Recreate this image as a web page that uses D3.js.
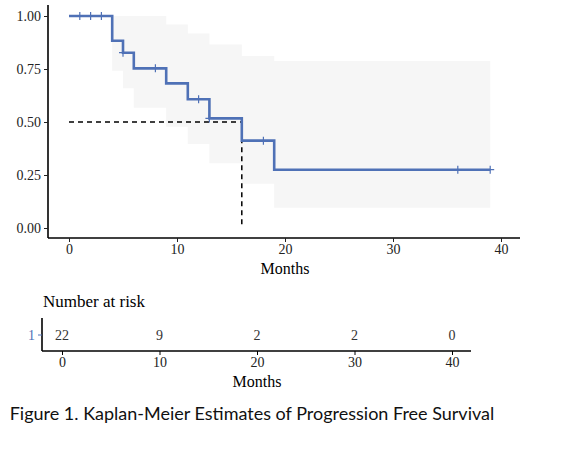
<!DOCTYPE html>
<html>
<head>
<meta charset="utf-8">
<script src="https://cdn.jsdelivr.net/npm/d3@7"></script>
<style>
  body { margin: 0; background: #fff; }
  text { font-family: "Liberation Serif", "DejaVu Serif", serif; }
</style>
</head>
<body>
<div id="chart"></div>
<script>
// survival step curve (time, survival after that time)
const stepTimes = [0, 4, 5, 6, 9, 11, 13, 16, 19];
const stepSurv = [1.0, 0.883, 0.827, 0.753, 0.682, 0.607, 0.517, 0.412, 0.275];
const endTime = 39;
// confidence band per step
const bandLower = [1.0, 0.742, 0.659, 0.567, 0.478, 0.396, 0.305, 0.209, 0.096];
const bandUpper = [1.0, 1.0, 1.0, 1.0, 0.96, 0.918, 0.866, 0.811, 0.788];
// censoring marks
const censorTimes = [1, 2, 3, 5, 8, 12, 13, 18, 36, 39];
const medianTime = 16;
const yTicks = [0, 0.25, 0.5, 0.75, 1.0];
const xTicks = [0, 10, 20, 30, 40];
// number at risk table
const riskTimes = [0, 10, 20, 30, 40];
const riskCounts = [22, 9, 2, 2, 0];
const caption = "Figure 1. Kaplan-Meier Estimates of Progression Free Survival";

const W = 580, H = 452;
const svg = d3.select("#chart").append("svg")
    .attr("width", W)
    .attr("height", H);

const x = d3.scaleLinear().domain([0, 40]).range([69, 501]);
const y = d3.scaleLinear().domain([0, 1]).range([228, 16]);

// survival value at time t
function survAt(t, arr) {
    let v = arr[0];
    stepTimes.forEach((s, i) => { if (t >= s) v = arr[i]; });
    return v;
}

// confidence band
const bandPts = stepTimes.map((t, i) => ({ t: t, lo: bandLower[i], hi: bandUpper[i] }));
bandPts.push({ t: endTime, lo: bandLower[bandLower.length - 1], hi: bandUpper[bandUpper.length - 1] });
svg.append("path")
    .datum(bandPts)
    .attr("fill", "#f6f6f6")
    .attr("d", d3.area().curve(d3.curveStepAfter)
        .x(d => x(d.t)).y0(d => y(d.lo)).y1(d => y(d.hi)));

// median lines
svg.append("path")
    .attr("fill", "none")
    .attr("stroke", "#000")
    .attr("stroke-width", 1.5)
    .attr("stroke-dasharray", "5,4")
    .attr("d", d3.line()([[x(0), y(0.5)], [x(medianTime), y(0.5)], [x(medianTime), y(0)]]));

// survival curve
const curvePts = stepTimes.map((t, i) => ({ t: t, s: stepSurv[i] }));
curvePts.push({ t: endTime, s: stepSurv[stepSurv.length - 1] });
svg.append("path")
    .datum(curvePts)
    .attr("fill", "none")
    .attr("stroke", "#4f71b6")
    .attr("stroke-width", 2.6)
    .attr("d", d3.line().curve(d3.curveStepAfter).x(d => x(d.t)).y(d => y(d.s)));

// censor marks
svg.selectAll(".censor")
    .data(censorTimes)
    .enter().append("path")
    .attr("class", "censor")
    .attr("stroke", "#4f71b6")
    .attr("stroke-width", 1.2)
    .attr("d", d => {
        const cx = x(d), cy = y(survAt(d, stepSurv));
        return `M${cx - 4},${cy}H${cx + 4}M${cx},${cy - 4}V${cy + 4}`;
    });

// axes
const yAxis = svg.append("g")
    .attr("transform", "translate(48,0)")
    .call(d3.axisLeft(y).tickValues(yTicks).tickFormat(d3.format(".2f")).tickSize(4).tickPadding(3));
yAxis.select(".domain").attr("d", "M0,5V238").attr("stroke-width", 1.6);

const xAxis = svg.append("g")
    .attr("transform", "translate(0,238)")
    .call(d3.axisBottom(x).tickValues(xTicks).tickSize(4).tickPadding(2));
xAxis.select(".domain").attr("d", "M48,0H520").attr("stroke-width", 1.6);

[yAxis, xAxis].forEach(g => {
    g.attr("font-size", 14).attr("font-family", "Liberation Serif");
    g.selectAll("text").attr("fill", "#222");
    g.selectAll(".tick line").attr("stroke", "#222");
});

svg.append("text")
    .attr("x", 285).attr("y", 274)
    .attr("text-anchor", "middle")
    .attr("font-size", 16)
    .text("Months");

// number at risk table
svg.append("text")
    .attr("x", 43).attr("y", 307)
    .attr("font-size", 17)
    .text("Number at risk");

const xr = d3.scaleLinear().domain([0, 40]).range([62, 452]);

const ryAxis = svg.append("g").attr("transform", "translate(42,0)");
ryAxis.append("path").attr("stroke", "#000").attr("stroke-width", 1.6)
    .attr("d", "M0,318V351");
ryAxis.append("line").attr("x1", -4).attr("x2", 0).attr("y1", 335).attr("y2", 335)
    .attr("stroke", "#4f71b6");
ryAxis.append("text").attr("x", -7).attr("y", 335).attr("dy", "0.35em")
    .attr("text-anchor", "end").attr("font-size", 14).attr("fill", "#4f71b6").text("1");

svg.selectAll(".risk")
    .data(riskTimes)
    .enter().append("text")
    .attr("class", "risk")
    .attr("x", d => xr(d))
    .attr("y", 335)
    .attr("dy", "0.35em")
    .attr("text-anchor", "middle")
    .attr("font-size", 14)
    .attr("fill", "#333")
    .text((d, i) => riskCounts[i]);

const rxAxis = svg.append("g")
    .attr("transform", "translate(0,351)")
    .call(d3.axisBottom(xr).tickValues(xTicks).tickSize(4).tickPadding(2));
rxAxis.select(".domain").attr("d", "M42,0H471").attr("stroke-width", 1.6);
rxAxis.attr("font-size", 14).attr("font-family", "Liberation Serif");
rxAxis.selectAll("text").attr("fill", "#222");

svg.append("text")
    .attr("x", 257).attr("y", 387)
    .attr("text-anchor", "middle")
    .attr("font-size", 16)
    .text("Months");

// caption
svg.append("text")
    .attr("x", 252).attr("y", 420)
    .attr("text-anchor", "middle")
    .style("font-family", "Lato, 'Open Sans', sans-serif")
    .attr("font-size", 18)
    .attr("fill", "#111")
    .text(caption);
</script>
</body>
</html>
